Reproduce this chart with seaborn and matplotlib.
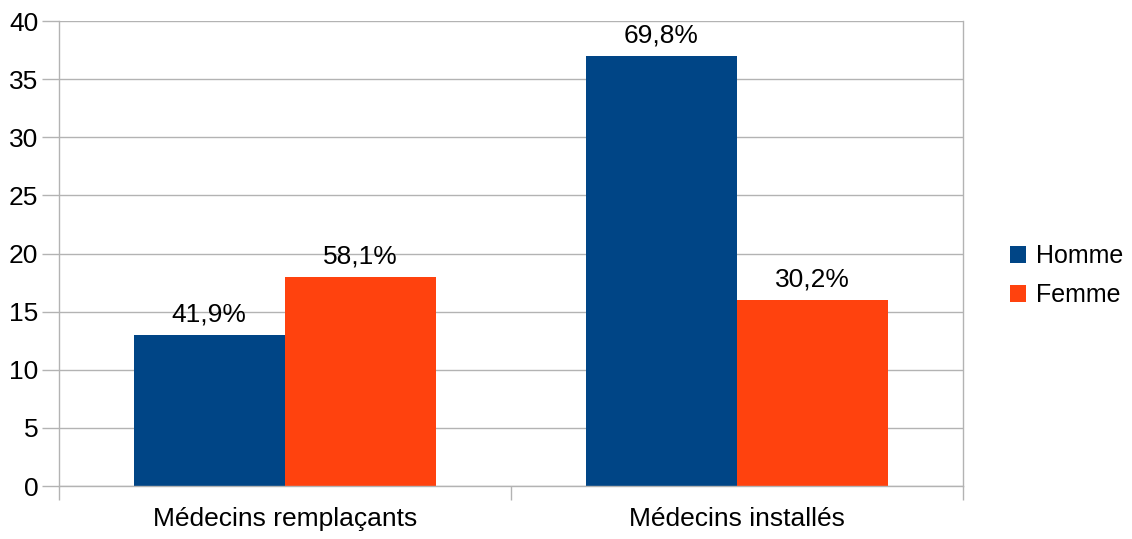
import pandas as pd
import matplotlib
matplotlib.use('Agg')
import matplotlib.pyplot as plt
import seaborn as sns

categories = ['Médecins remplaçants', 'Médecins installés']
homme = [13, 37]
femme = [18, 16]
homme_pct = ['41,9%', '69,8%']
femme_pct = ['58,1%', '30,2%']

df = pd.DataFrame({
    'Catégorie': categories * 2,
    'Sexe': ['Homme'] * 2 + ['Femme'] * 2,
    'Nombre': homme + femme,
})

sns.set_theme(style='white')
plt.rcParams['font.family'] = ['Liberation Sans', 'DejaVu Sans']
plt.rcParams['text.color'] = 'black'
plt.rcParams['xtick.labelcolor'] = 'black'
plt.rcParams['ytick.labelcolor'] = 'black'

fig = plt.figure(figsize=(11.32, 5.39), dpi=100)
ax = fig.add_axes([0.0521, 0.0983, 0.7986, 0.8627])

sns.barplot(data=df, x='Catégorie', y='Nombre', hue='Sexe',
            palette={'Homme': '#004586', 'Femme': '#ff420e'},
            width=0.67, saturation=1, linewidth=0, ax=ax, legend=True)

for cont, labs in zip(ax.containers, [homme_pct, femme_pct]):
    ax.bar_label(cont, labels=labs, padding=6, fontsize=19, color='black')

ax.set_ylim(0, 40)
ax.set_xlim(-0.5, 1.5)
ax.set_yticks(range(0, 41, 5))
ax.yaxis.grid(True, color='#b3b3b3', linewidth=1)
ax.set_axisbelow(True)
ax.set_xlabel('')
ax.set_ylabel('')

# séparateurs de catégories sur l'axe x
ax.set_xticks([0, 1])
ax.set_xticklabels(categories)
ax.tick_params(axis='x', length=0, labelsize=19, pad=15)
ax.set_xticks([-0.5, 0.5, 1.5], minor=True)
ax.tick_params(axis='x', which='minor', length=10, width=1, color='#b3b3b3', bottom=True)
ax.tick_params(axis='y', length=12, width=1, color='#b3b3b3', labelsize=19, left=True, pad=3)

for side in ['left', 'right', 'bottom']:
    ax.spines[side].set_visible(True)
    ax.spines[side].set_color('#b3b3b3')
    ax.spines[side].set_linewidth(1)
ax.spines['top'].set_visible(False)

leg = ax.legend(loc='center left', bbox_to_anchor=(1.052, 0.452), frameon=False,
                borderaxespad=0, borderpad=0,
                fontsize=18, handlelength=0.65, handleheight=0.65,
                handletextpad=0.4, labelspacing=0.6)

plt.savefig('out.png', dpi=100)
